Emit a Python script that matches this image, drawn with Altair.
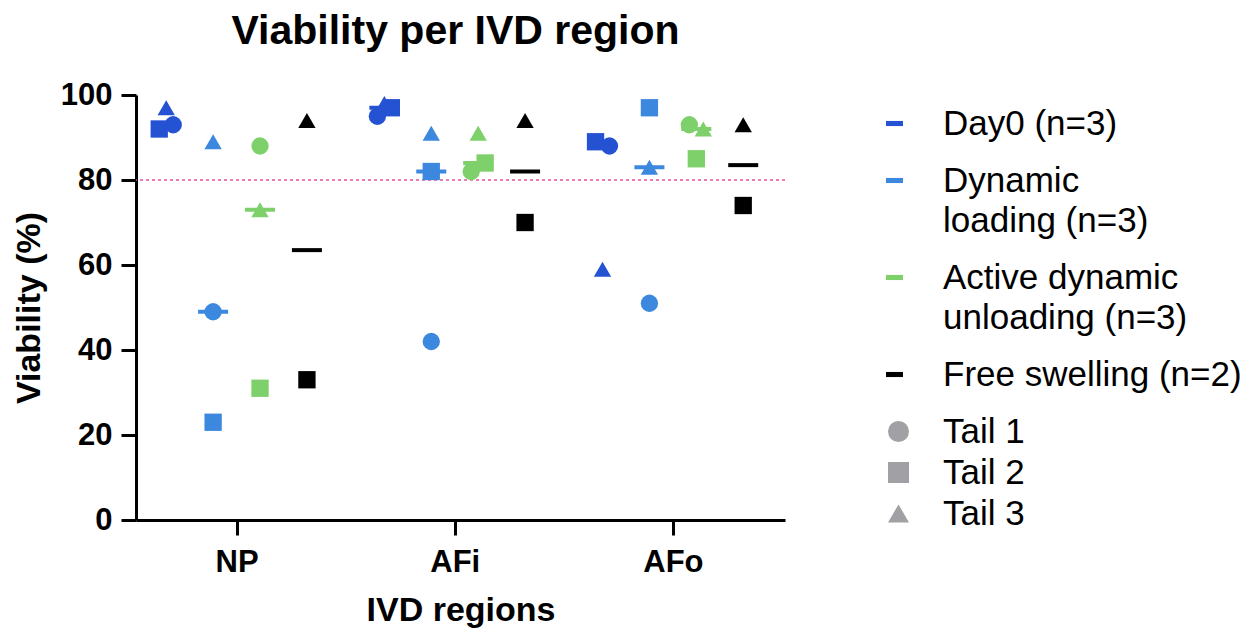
import altair as alt
import pandas as pd

regions = ["NP", "AFi", "AFo"]
groups = ["Day0 (n=3)", "Dynamic loading (n=3)",
          "Active dynamic unloading (n=3)", "Free swelling (n=2)"]
tails = ["Tail 1", "Tail 2", "Tail 3"]

# viability (%) per region (NP, AFi, AFo), each as [Tail 1, Tail 2, Tail 3]
day0 = [[93, 92, 97], [95, 97, 98], [88, 89, 59]]
dynamic_loading = [[49, 23, 89], [42, 82, 91], [51, 97, 83]]
active_unloading = [[88, 31, 73], [82, 84, 91], [93, 85, 92]]
free_swelling = [[None, 33, 94], [None, 70, 94], [None, 74, 93]]

# side-by-side spread of overlapping points (in marker steps)
spread_day0 = [[1, -1, 0], [-1, 1, 0], [1, -1, 0]]
spread_active = [[0, 0, 0], [-1, 1, 0], [-1, 0, 1]]
no_spread = [[0, 0, 0], [0, 0, 0], [0, 0, 0]]

colors = ["#2452D2", "#3B88DE", "#7ED06B", "#000000"]
shapes = ["circle", "square", "triangle-up"]

series = [day0, dynamic_loading, active_unloading, free_swelling]
spreads = [spread_day0, no_spread, spread_active, no_spread]

rows = []
for gi, (g, vals, sp) in enumerate(zip(groups, series, spreads)):
    for ri, r in enumerate(regions):
        for ti, t in enumerate(tails):
            v = vals[ri][ti]
            if v is None:
                continue
            rows.append({"region": r, "ri": ri, "group": g, "gi": gi,
                         "tail": t, "value": v, "spread": sp[ri][ti]})
df = pd.DataFrame(rows)

FONT = "Liberation Sans"
group_labels = ["Day0 (n=3)", "Dynamic|loading (n=3)",
                "Active dynamic|unloading (n=3)", "Free swelling (n=2)"]

x_scale = alt.Scale(domain=[-0.461, 2.514], nice=False, zero=False)
y_scale = alt.Scale(domain=[0, 100], nice=False)

x_axis = alt.Axis(values=[0, 1, 2],
                  labelExpr=str(regions) + "[datum.value]",
                  title="IVD regions", grid=False,
                  domainColor="black", domainWidth=3, tickColor="black",
                  tickWidth=3, tickSize=15, labelPadding=12,
                  labelFont=FONT, labelFontSize=31, labelFontWeight="bold",
                  labelColor="black", titleFont=FONT, titleFontSize=34,
                  titleFontWeight="bold", titleColor="black", titlePadding=16)
y_axis = alt.Axis(values=[0, 20, 40, 60, 80, 100], title="Viability (%)",
                  grid=False, domainColor="black", domainWidth=3,
                  tickColor="black", tickWidth=3, tickSize=15, labelPadding=9,
                  labelFont=FONT, labelFontSize=31, labelFontWeight="bold",
                  labelColor="black", titleFont=FONT, titleFontSize=34,
                  titleFontWeight="bold", titleColor="black", titlePadding=14)

base = alt.Chart(df)

ref = alt.Chart(pd.DataFrame({"v": [80]})).mark_rule(
    color="#E8509A", strokeDash=[3, 3], strokeWidth=1.5
).encode(y=alt.Y("v:Q", scale=y_scale, axis=y_axis))

color_enc = alt.Color(
    "group:N",
    scale=alt.Scale(domain=groups, range=colors),
    legend=alt.Legend(
        title=None, orient="none", legendX=741, legendY=11,
        symbolType="M-1,-0.3L1,-0.3L1,0.3L-1,0.3Z", symbolSize=289,
        symbolStrokeWidth=0, symbolOpacity=1, labelOffset=31, rowPadding=21,
        labelFont=FONT, labelFontSize=35, labelColor="black", labelLimit=0,
        labelExpr="split(" + str(dict(zip(groups, group_labels))) + "[datum.label], '|')",
    ),
)

medians = base.transform_aggregate(
    med="median(value)", groupby=["ri", "gi", "group"]
).transform_calculate(
    xpos="datum.ri + (datum.gi - 1.5) * 0.215"
).mark_tick(orient="horizontal", size=30, thickness=4, opacity=1).encode(
    x=alt.X("xpos:Q", scale=x_scale, axis=x_axis),
    y=alt.Y("med:Q", scale=y_scale),
    color=color_enc,
)

points = base.transform_calculate(
    xpos="datum.ri + (datum.gi - 1.5) * 0.215 + datum.spread * 0.032"
).mark_point(filled=True, size=300, opacity=1, strokeWidth=0).encode(
    x=alt.X("xpos:Q", scale=x_scale, axis=x_axis),
    y=alt.Y("value:Q", scale=y_scale),
    color=color_enc,
    shape=alt.Shape(
        "tail:N", scale=alt.Scale(domain=tails, range=shapes),
        legend=alt.Legend(
            title=None, orient="none", legendX=745, legendY=319,
            symbolSize=441, symbolFillColor="#A0A0A5",
            symbolStrokeColor="#A0A0A5", symbolStrokeWidth=0,
            labelOffset=27, rowPadding=5, labelFont=FONT, labelFontSize=35,
            labelColor="black", labelLimit=0,
        ),
    ),
)

chart = alt.layer(ref, medians, points).properties(
    width=649, height=425,
    autosize=alt.AutoSizeParams(type="none"),
    padding={"left": 128, "top": 87, "right": 461, "bottom": 108},
    title=alt.TitleParams("Viability per IVD region", font=FONT, fontSize=41,
                          fontWeight="bold", color="black", anchor="middle",
                          offset=26, dx=-5),
).configure(
    background="white",
    view=alt.ViewConfig(stroke=None),
    style={"guide-label": {"lineHeight": 40}},
)

chart.save("out.html", embed_options={"renderer": "svg", "actions": False})
